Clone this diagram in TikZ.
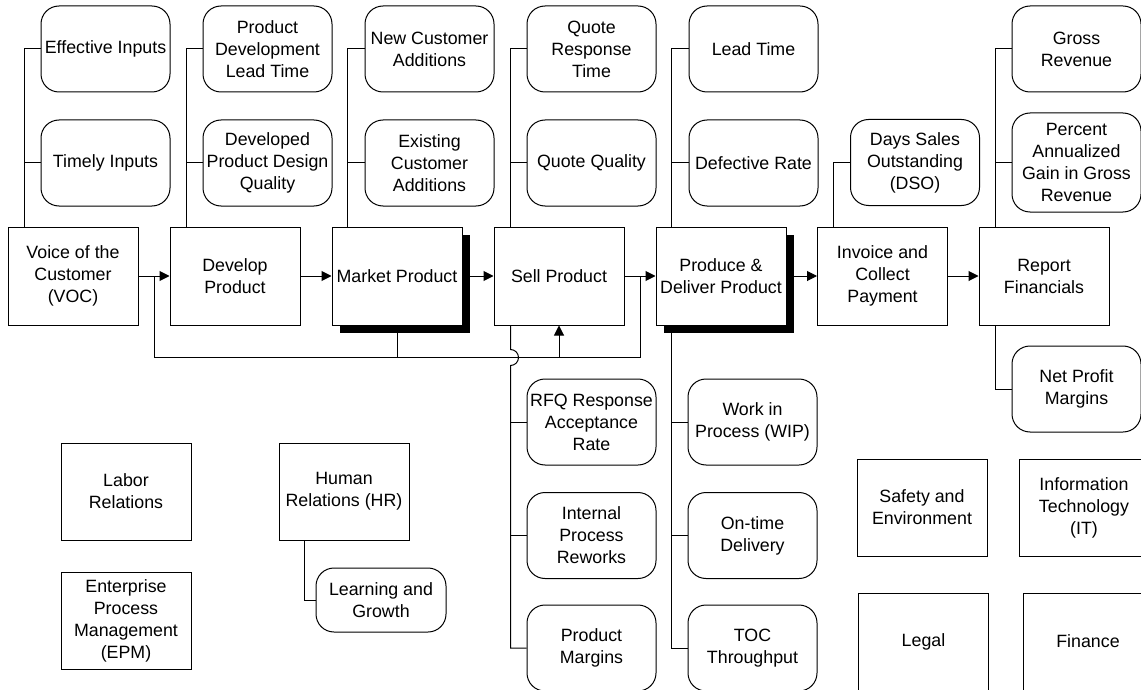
\documentclass[tikz,border=0pt]{standalone}
\usepackage{fontspec}
\setmainfont{Liberation Sans}
\usetikzlibrary{arrows.meta,shadows}
\begin{document}
\begin{tikzpicture}[x=1pt,y=-1pt,line width=1pt,
  every node/.style={font=\fontsize{17.8}{22}\selectfont, align=center, inner sep=0pt},
  proc/.style={draw, fill=white, minimum width=130pt, minimum height=98pt},
  shproc/.style={proc, general shadow={fill=black, shadow xshift=8pt, shadow yshift=-8pt}},
  sqbox/.style={draw, fill=white, minimum width=130pt, minimum height=97pt},
  kpi/.style={draw, fill=white, rounded corners=18pt, minimum width=129pt, minimum height=86pt},
  arr/.style={-{Triangle[length=10pt,width=10pt]}}
]
\useasboundingbox (0,0) rectangle (1141,690);

% main process row
\node[proc]   (voc)  at (73,276)    {Voice of the\\Customer\\(VOC)};
\node[proc]   (dev)  at (235,276)   {Develop\\Product};
\node[shproc] (mkt)  at (397,276)   {Market Product};
\node[proc]   (sell) at (559,276)   {Sell Product};
\node[shproc] (prod) at (721,276)   {Produce \&\\Deliver Product};
\node[proc]   (inv)  at (882.5,276) {Invoice and\\Collect\\Payment};
\node[proc]   (rep)  at (1044,276)  {Report\\Financials};

% top KPIs
\node[kpi] (eff)    at (105.5,49)  {Effective Inputs};
\node[kpi] (timely) at (105.5,163) {Timely Inputs};
\node[kpi] (pdlt)   at (267.5,49)  {Product\\Development\\Lead Time};
\node[kpi] (pdq)    at (267.5,163) {Developed\\Product Design\\Quality};
\node[kpi] (nca)    at (429.5,49)  {New Customer\\Additions};
\node[kpi] (eca)    at (429.5,163) {Existing\\Customer\\Additions};
\node[kpi] (qrt)    at (591.5,49)  {Quote\\Response\\Time};
\node[kpi] (qq)     at (591.5,163) {Quote Quality};
\node[kpi] (lt)     at (753.5,49)  {Lead Time};
\node[kpi] (dr)     at (753.5,163) {Defective Rate};
\node[kpi] (dso)    at (915,162.5) {Days Sales\\Outstanding\\(DSO)};
\node[kpi] (gross)  at (1076.5,49) {Gross\\Revenue};
\node[kpi, minimum height=99pt] (pct) at (1076.5,162.5) {Percent\\Annualized\\Gain in Gross\\Revenue};
\node[kpi] (npm)    at (1076.5,389) {Net Profit\\Margins};

% bottom KPIs
\node[kpi] (rfq)  at (591.5,422)   {RFQ Response\\Acceptance\\Rate};
\node[kpi] (ipr)  at (591.5,535.5) {Internal\\Process\\Reworks};
\node[kpi] (pm)   at (591.5,648)   {Product\\Margins};
\node[kpi] (wip)  at (752.5,422)   {Work in\\Process (WIP)};
\node[kpi] (otd)  at (752.5,535.5) {On-time\\Delivery};
\node[kpi] (toc)  at (752.5,648)   {TOC\\Throughput};

% support functions
\node[sqbox] (labor) at (126,491.5) {Labor\\Relations};
\node[sqbox] (epm)   at (126,621)   {Enterprise\\Process\\Management\\(EPM)};
\node[sqbox] (hr)    at (344,491.5) {Human\\Relations (HR)};
\node[kpi, minimum width=130pt, minimum height=64pt] (lg) at (381,600) {Learning and\\Growth};
\node[sqbox] (safe)  at (922,507.5)  {Safety and\\Environment};
\node[sqbox] (it)    at (1084,507.5) {Information\\Technology\\(IT)};
\node[sqbox] (legal) at (923.5,641.5) {Legal};
\node[sqbox] (fin)   at (1088,641.5)  {Finance};

% main arrows
\draw[arr] (voc) -- (dev);
\draw[arr] (dev) -- (mkt);
\draw[arr] (mkt) -- (sell);
\draw[arr] (sell) -- (prod);
\draw[arr] (prod) -- (inv);
\draw[arr] (inv) -- (rep);

% KPI connectors (top)
\draw ([xshift=17pt]voc.north west) |- (eff.west);
\draw ([xshift=17pt]voc.north west) |- (timely.west);
\draw ([xshift=17pt]dev.north west) |- (pdlt.west);
\draw ([xshift=17pt]dev.north west) |- (pdq.west);
\draw ([xshift=16pt]mkt.north west) |- (nca.west);
\draw ([xshift=16pt]mkt.north west) |- (eca.west);
\draw ([xshift=17pt]sell.north west) |- (qrt.west);
\draw ([xshift=17pt]sell.north west) |- (qq.west);
\draw ([xshift=16pt]prod.north west) |- (lt.west);
\draw ([xshift=16pt]prod.north west) |- (dr.west);
\draw ([xshift=16pt]inv.north west) |- (dso.west);
\draw ([xshift=17pt]rep.north west) |- (gross.west);
\draw ([xshift=17pt]rep.north west) |- (pct.west);
\draw ([xshift=17pt]rep.south west) |- (npm.west);

% KPI connectors (bottom)
\coordinate (sv) at ([xshift=17pt]sell.south west);
\draw (sv) -- ++(0,24) arc[start angle=-90,end angle=90,radius=8] |- (pm.west);
\draw (sv |- rfq.west) -- (rfq.west);
\draw (sv |- ipr.west) -- (ipr.west);
\coordinate (pv) at ([xshift=16pt]prod.south west);
\draw (pv) |- (toc.west);
\draw (pv |- wip.west) -- (wip.west);
\draw (pv |- otd.west) -- (otd.west);
\draw ([xshift=26pt]hr.south west) |- (lg.west);

% feedback loop
\coordinate (la) at (154,276);
\coordinate (lb) at (640,276);
\coordinate (lc) at (154,357);
\coordinate (ld) at (640,357);
\draw (la) -- (lc) -- (ld) -- (lb);
\draw (mkt.south |- lc) -- (mkt.south);
\draw[arr] (sell.south |- lc) -- (sell.south);
\end{tikzpicture}
\end{document}
